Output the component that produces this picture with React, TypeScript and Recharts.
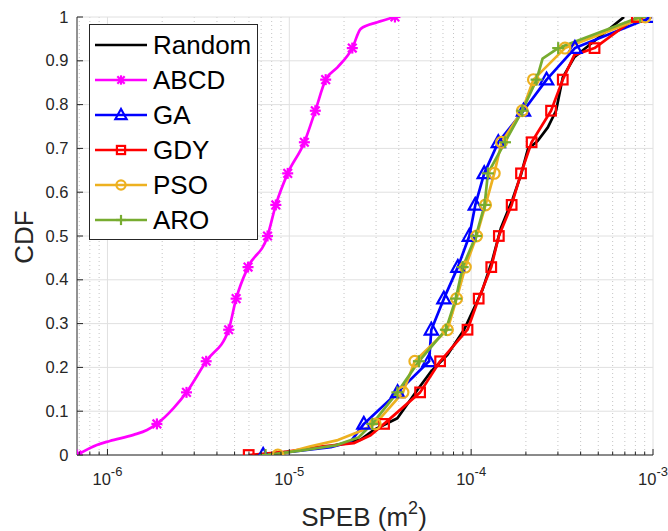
import React from 'react';
import { LineChart, Line, XAxis, YAxis, CartesianGrid, Legend, Label } from 'recharts';

const FONT = '"Liberation Sans", Arial, Helvetica, sans-serif';
const TEXT = '#262626';

// axis ranges / ticks
const xMin = 6.8e-7;
const xMax = 1e-3;
const majorExponents = [-6, -5, -4, -3];
const minorTickValues = [
  7e-7, 8e-7, 9e-7,
  2e-6, 3e-6, 4e-6, 5e-6, 6e-6, 7e-6, 8e-6, 9e-6,
  2e-5, 3e-5, 4e-5, 5e-5, 6e-5, 7e-5, 8e-5, 9e-5,
  2e-4, 3e-4, 4e-4, 5e-4, 6e-4, 7e-4, 8e-4, 9e-4,
];
const yTicks = [0, 0.1, 0.2, 0.3, 0.4, 0.5, 0.6, 0.7, 0.8, 0.9, 1];
const yTickLabels = ['0', '0.1', '0.2', '0.3', '0.4', '0.5', '0.6', '0.7', '0.8', '0.9', '1'];

// CDF levels at which markers are drawn
const markerCdf = [0, 0.071, 0.143, 0.214, 0.286, 0.357, 0.429, 0.5, 0.571, 0.643, 0.714, 0.786, 0.857, 0.929, 1.0];

// Random (no markers)
const randomSpeb = [6.52e-6, 1.02e-5, 1.69e-5, 2.47e-5, 2.91e-5, 3.93e-5, 5.07e-5, 6.0e-5, 7.41e-5, 9.14e-5, 1.04e-4, 1.156e-4, 1.31e-4, 1.46e-4, 1.69e-4, 1.88e-4, 2.05e-4, 2.32e-4, 2.64e-4, 2.93e-4, 3.19e-4, 3.69e-4, 6.93e-4];
const randomCdf = [0, 0.008, 0.02, 0.035, 0.057, 0.084, 0.149, 0.19, 0.229, 0.286, 0.336, 0.378, 0.446, 0.519, 0.584, 0.64, 0.698, 0.717, 0.748, 0.786, 0.862, 0.908, 1.0];

// ABCD
const abcdMarkSpeb = [6.8e-7, 1.87e-6, 2.72e-6, 3.49e-6, 4.64e-6, 5.1e-6, 5.93e-6, 7.59e-6, 8.43e-6, 9.8e-6, 1.21e-5, 1.39e-5, 1.585e-5, 2.22e-5, 3.81e-5];
const abcdPathSpeb = [8.74e-7, 1.03e-6, 1.39e-6, 1.65e-6, 2.31e-6, 1.84e-5, 2.47e-5, 3.05e-5];
const abcdPathCdf = [0.023, 0.032, 0.046, 0.057, 0.107, 0.885, 0.973, 0.988];

// GA
const gaMarkSpeb = [7.18e-6, 2.57e-5, 3.94e-5, 5.87e-5, 6.04e-5, 7.08e-5, 8.45e-5, 9.77e-5, 1.054e-4, 1.18e-4, 1.41e-4, 1.94e-4, 2.6e-4, 3.72e-4, 9.86e-4];
const gaPathSpeb = [1.15e-5, 1.69e-5, 2.17e-5];
const gaPathCdf = [0.01, 0.018, 0.03];

// GDY
const gdyMarkSpeb = [5.98e-6, 3.32e-5, 5.24e-5, 6.75e-5, 9.55e-5, 1.1e-4, 1.29e-4, 1.42e-4, 1.67e-4, 1.88e-4, 2.15e-4, 2.75e-4, 3.19e-4, 4.77e-4, 8.15e-4];
const gdyPathSpeb = [9.77e-6, 1.49e-5, 2.26e-5, 2.8e-5, 3.69e-4];
const gdyPathCdf = [0.008, 0.019, 0.027, 0.045, 0.913];

// PSO
const psoMarkSpeb = [8.65e-6, 2.97e-5, 4.22e-5, 4.9e-5, 7.41e-5, 8.32e-5, 9.29e-5, 1.072e-4, 1.2e-4, 1.34e-4, 1.47e-4, 1.91e-4, 2.2e-4, 3.28e-4, 9.06e-4];
const psoPathSpeb = [1.31e-5, 1.85e-5, 2.47e-5];
const psoPathCdf = [0.02, 0.034, 0.055];

// ARO
const aroMarkSpeb = [7.4e-6, 2.86e-5, 3.93e-5, 5.16e-5, 7.26e-5, 8.24e-5, 8.98e-5, 1.062e-4, 1.186e-4, 1.236e-4, 1.535e-4, 1.91e-4, 2.29e-4, 3.01e-4, 8.49e-4];
const aroPathSpeb = [1.15e-5, 1.8e-5, 2.4e-5, 2.47e-4];
const aroPathCdf = [0.01, 0.022, 0.04, 0.905];

type Row = { x: number; y: number; m: boolean };

function build(markX: number[], markY: number[], pathX: number[], pathY: number[]): Row[] {
  const rows: Row[] = [
    ...markX.map((v, i) => ({ x: Math.log10(v), y: markY[i], m: true })),
    ...pathX.map((v, i) => ({ x: Math.log10(v), y: pathY[i], m: false })),
  ];
  rows.sort((a, b) => a.x - b.x || a.y - b.y);
  return rows;
}

const randomData = build([], [], randomSpeb, randomCdf);
const abcdData = build(abcdMarkSpeb, markerCdf, abcdPathSpeb, abcdPathCdf);
const gaData = build(gaMarkSpeb, markerCdf, gaPathSpeb, gaPathCdf);
const gdyData = build(gdyMarkSpeb, markerCdf, gdyPathSpeb, gdyPathCdf);
const psoData = build(psoMarkSpeb, markerCdf, psoPathSpeb, psoPathCdf);
const aroData = build(aroMarkSpeb, markerCdf, aroPathSpeb, aroPathCdf);

type Shape = 'none' | 'star' | 'tri' | 'sq' | 'circ' | 'plus';

const series: { name: string; color: string; shape: Shape; data: Row[]; curve: any }[] = [
  { name: 'Random', color: '#000000', shape: 'none', data: randomData, curve: 'linear' },
  { name: 'ABCD', color: '#FF00FF', shape: 'star', data: abcdData, curve: 'monotoneX' },
  { name: 'GA', color: '#0000FF', shape: 'tri', data: gaData, curve: 'linear' },
  { name: 'GDY', color: '#FF0000', shape: 'sq', data: gdyData, curve: 'linear' },
  { name: 'PSO', color: '#EDB120', shape: 'circ', data: psoData, curve: 'linear' },
  { name: 'ARO', color: '#77AC30', shape: 'plus', data: aroData, curve: 'linear' },
];

function Marker({ shape, cx, cy, color, s = 1 }: { shape: Shape; cx: number; cy: number; color: string; s?: number }) {
  const sw = 2.2;
  switch (shape) {
    case 'star': {
      const a = 5.5 * s, d = 4.3 * s;
      return (
        <g stroke={color} strokeWidth={sw} fill="none">
          <line x1={cx - a} y1={cy} x2={cx + a} y2={cy} />
          <line x1={cx} y1={cy - a} x2={cx} y2={cy + a} />
          <line x1={cx - d} y1={cy - d} x2={cx + d} y2={cy + d} />
          <line x1={cx - d} y1={cy + d} x2={cx + d} y2={cy - d} />
        </g>
      );
    }
    case 'tri':
      return (
        <polygon
          points={`${cx},${cy - 7 * s} ${cx - 6.6 * s},${cy + 4.8 * s} ${cx + 6.6 * s},${cy + 4.8 * s}`}
          fill="none" stroke={color} strokeWidth={sw} strokeLinejoin="miter"
        />
      );
    case 'sq':
      return <rect x={cx - 4.8 * s} y={cy - 4.8 * s} width={9.6 * s} height={9.6 * s} fill="none" stroke={color} strokeWidth={sw} />;
    case 'circ':
      return <circle cx={cx} cy={cy} r={5.4 * s} fill="none" stroke={color} strokeWidth={sw} />;
    case 'plus': {
      const a = 6 * s;
      return (
        <g stroke={color} strokeWidth={sw}>
          <line x1={cx - a} y1={cy} x2={cx + a} y2={cy} />
          <line x1={cx} y1={cy - a} x2={cx} y2={cy + a} />
        </g>
      );
    }
    default:
      return null;
  }
}

const makeDot = (shape: Shape, color: string, name: string) => (props: any) => {
  const { cx, cy, payload, index } = props;
  if (shape === 'none' || !payload || !payload.m || cx == null || cy == null) {
    return <g key={`dot-${name}-${index}`} />;
  }
  return (
    <g key={`dot-${name}-${index}`}>
      <Marker shape={shape} cx={cx} cy={cy} color={color} />
    </g>
  );
};

const majorLog = majorExponents.slice();
const minorLog = minorTickValues.map((v) => Math.log10(v));
const allXTicks = [...majorLog, ...minorLog].sort((a, b) => a - b);
const isMajor = (v: number) => Math.abs(v - Math.round(v)) < 1e-9;

const BottomTick = (p: any) => {
  const { x, y, payload } = p;
  const v = payload.value as number;
  const major = isMajor(v);
  const exp = Math.round(v);
  return (
    <g>
      <line x1={x} x2={x} y1={y} y2={y - (major ? 6 : 3.5)} stroke={TEXT} strokeWidth={1} />
      {major && (
        <text x={x} y={y + 29.5} textAnchor="middle" fill={TEXT} fontFamily={FONT} fontSize={16.5}>
          <tspan>10</tspan>
          <tspan fontSize={13} dy={-9}>{exp < 0 ? `-${Math.abs(exp)}` : String(exp)}</tspan>
        </text>
      )}
    </g>
  );
};

const TopTick = (p: any) => {
  const { x, y, payload } = p;
  const major = isMajor(payload.value as number);
  return <line x1={x} x2={x} y1={y} y2={y + (major ? 6 : 3.5)} stroke={TEXT} strokeWidth={1} />;
};

const LeftTick = (p: any) => {
  const { x, y, payload } = p;
  const idx = yTicks.findIndex((t) => Math.abs(t - payload.value) < 1e-9);
  return (
    <g>
      <line x1={x} x2={x + 6} y1={y} y2={y} stroke={TEXT} strokeWidth={1} />
      <text x={x - 8.5} y={y + 5.5} textAnchor="end" fill={TEXT} fontFamily={FONT} fontSize={16.5}>
        {idx >= 0 ? yTickLabels[idx] : ''}
      </text>
    </g>
  );
};

const RightTick = (p: any) => {
  const { x, y } = p;
  return <line x1={x} x2={x - 6} y1={y} y2={y} stroke={TEXT} strokeWidth={1} />;
};

const LegendBox = () => (
  <svg width={169} height={216} style={{ display: 'block' }}>
    <rect x={0.5} y={0.5} width={168} height={215} fill="#ffffff" stroke={TEXT} strokeWidth={1} />
    {series.map((s, i) => {
      const cy = 21 + 35 * i;
      return (
        <g key={s.name}>
          <line x1={6} x2={58} y1={cy} y2={cy} stroke={s.color} strokeWidth={2.7} />
          <Marker shape={s.shape} cx={32} cy={cy} color={s.color} s={0.85} />
          <text x={64} y={cy + 9.3} fontSize={26} fontFamily={FONT} fill="#000000">
            {s.name}
          </text>
        </g>
      );
    })}
  </svg>
);

export default function App() {
  const xDomain = [Math.log10(xMin), Math.log10(xMax)];
  return (
    <div style={{ position: 'absolute', left: 0, top: 0, background: '#ffffff' }}>
      <LineChart width={668} height={531} margin={{ top: 17, right: 15, bottom: 0, left: 0 }} style={{ fontFamily: FONT }}>
        <CartesianGrid horizontal={false} verticalValues={minorLog} stroke="#c4c4c4" strokeDasharray="1 3" strokeWidth={1} />
        <CartesianGrid horizontalValues={yTicks} verticalValues={majorLog} stroke="#e0e0e0" strokeWidth={1} />
        <XAxis
          xAxisId={0}
          type="number"
          dataKey="x"
          domain={xDomain}
          allowDataOverflow
          ticks={allXTicks}
          interval={0}
          tickSize={0}
          tickMargin={0}
          tickLine={false}
          axisLine={{ stroke: TEXT, strokeWidth: 1 }}
          tick={(p: any) => <BottomTick {...p} />}
          height={76}
        >
          <Label
            content={() => (
              <text x={364} y={526} textAnchor="middle" fill={TEXT} fontFamily={FONT} fontSize={26}>
                <tspan>SPEB (m</tspan>
                <tspan fontSize={18} dy={-12}>2</tspan>
                <tspan dy={12}>)</tspan>
              </text>
            )}
          />
        </XAxis>
        <XAxis
          xAxisId="top"
          orientation="top"
          type="number"
          dataKey="x"
          domain={xDomain}
          allowDataOverflow
          ticks={allXTicks}
          interval={0}
          tickSize={0}
          tickMargin={0}
          tickLine={false}
          axisLine={{ stroke: TEXT, strokeWidth: 1 }}
          tick={(p: any) => <TopTick {...p} />}
          height={0}
        />
        <YAxis
          yAxisId={0}
          type="number"
          domain={[0, 1]}
          allowDataOverflow
          ticks={yTicks}
          interval={0}
          tickSize={0}
          tickMargin={0}
          tickLine={false}
          axisLine={{ stroke: TEXT, strokeWidth: 1 }}
          tick={(p: any) => <LeftTick {...p} />}
          width={77}
        >
          <Label
            content={() => (
              <text x={33} y={237} transform="rotate(-90, 33, 237)" textAnchor="middle" fill={TEXT} fontFamily={FONT} fontSize={26}>
                CDF
              </text>
            )}
          />
        </YAxis>
        <YAxis
          yAxisId="right"
          orientation="right"
          type="number"
          domain={[0, 1]}
          allowDataOverflow
          ticks={yTicks}
          interval={0}
          tickSize={0}
          tickMargin={0}
          tickLine={false}
          axisLine={{ stroke: TEXT, strokeWidth: 1 }}
          tick={(p: any) => <RightTick {...p} />}
          width={0}
        />
        {series.map((s) => (
          <Line
            key={s.name}
            xAxisId={0}
            yAxisId={0}
            data={s.data}
            dataKey="y"
            name={s.name}
            type={s.curve}
            stroke={s.color}
            strokeWidth={2.7}
            dot={makeDot(s.shape, s.color, s.name)}
            activeDot={false}
            isAnimationActive={false}
            strokeLinejoin="round"
          />
        ))}
        <Legend
          layout="vertical"
          align="center"
          verticalAlign="middle"
          wrapperStyle={{ position: 'absolute', left: 89, top: 24, width: 169, height: 216 }}
          content={() => <LegendBox />}
        />
      </LineChart>
    </div>
  );
}
